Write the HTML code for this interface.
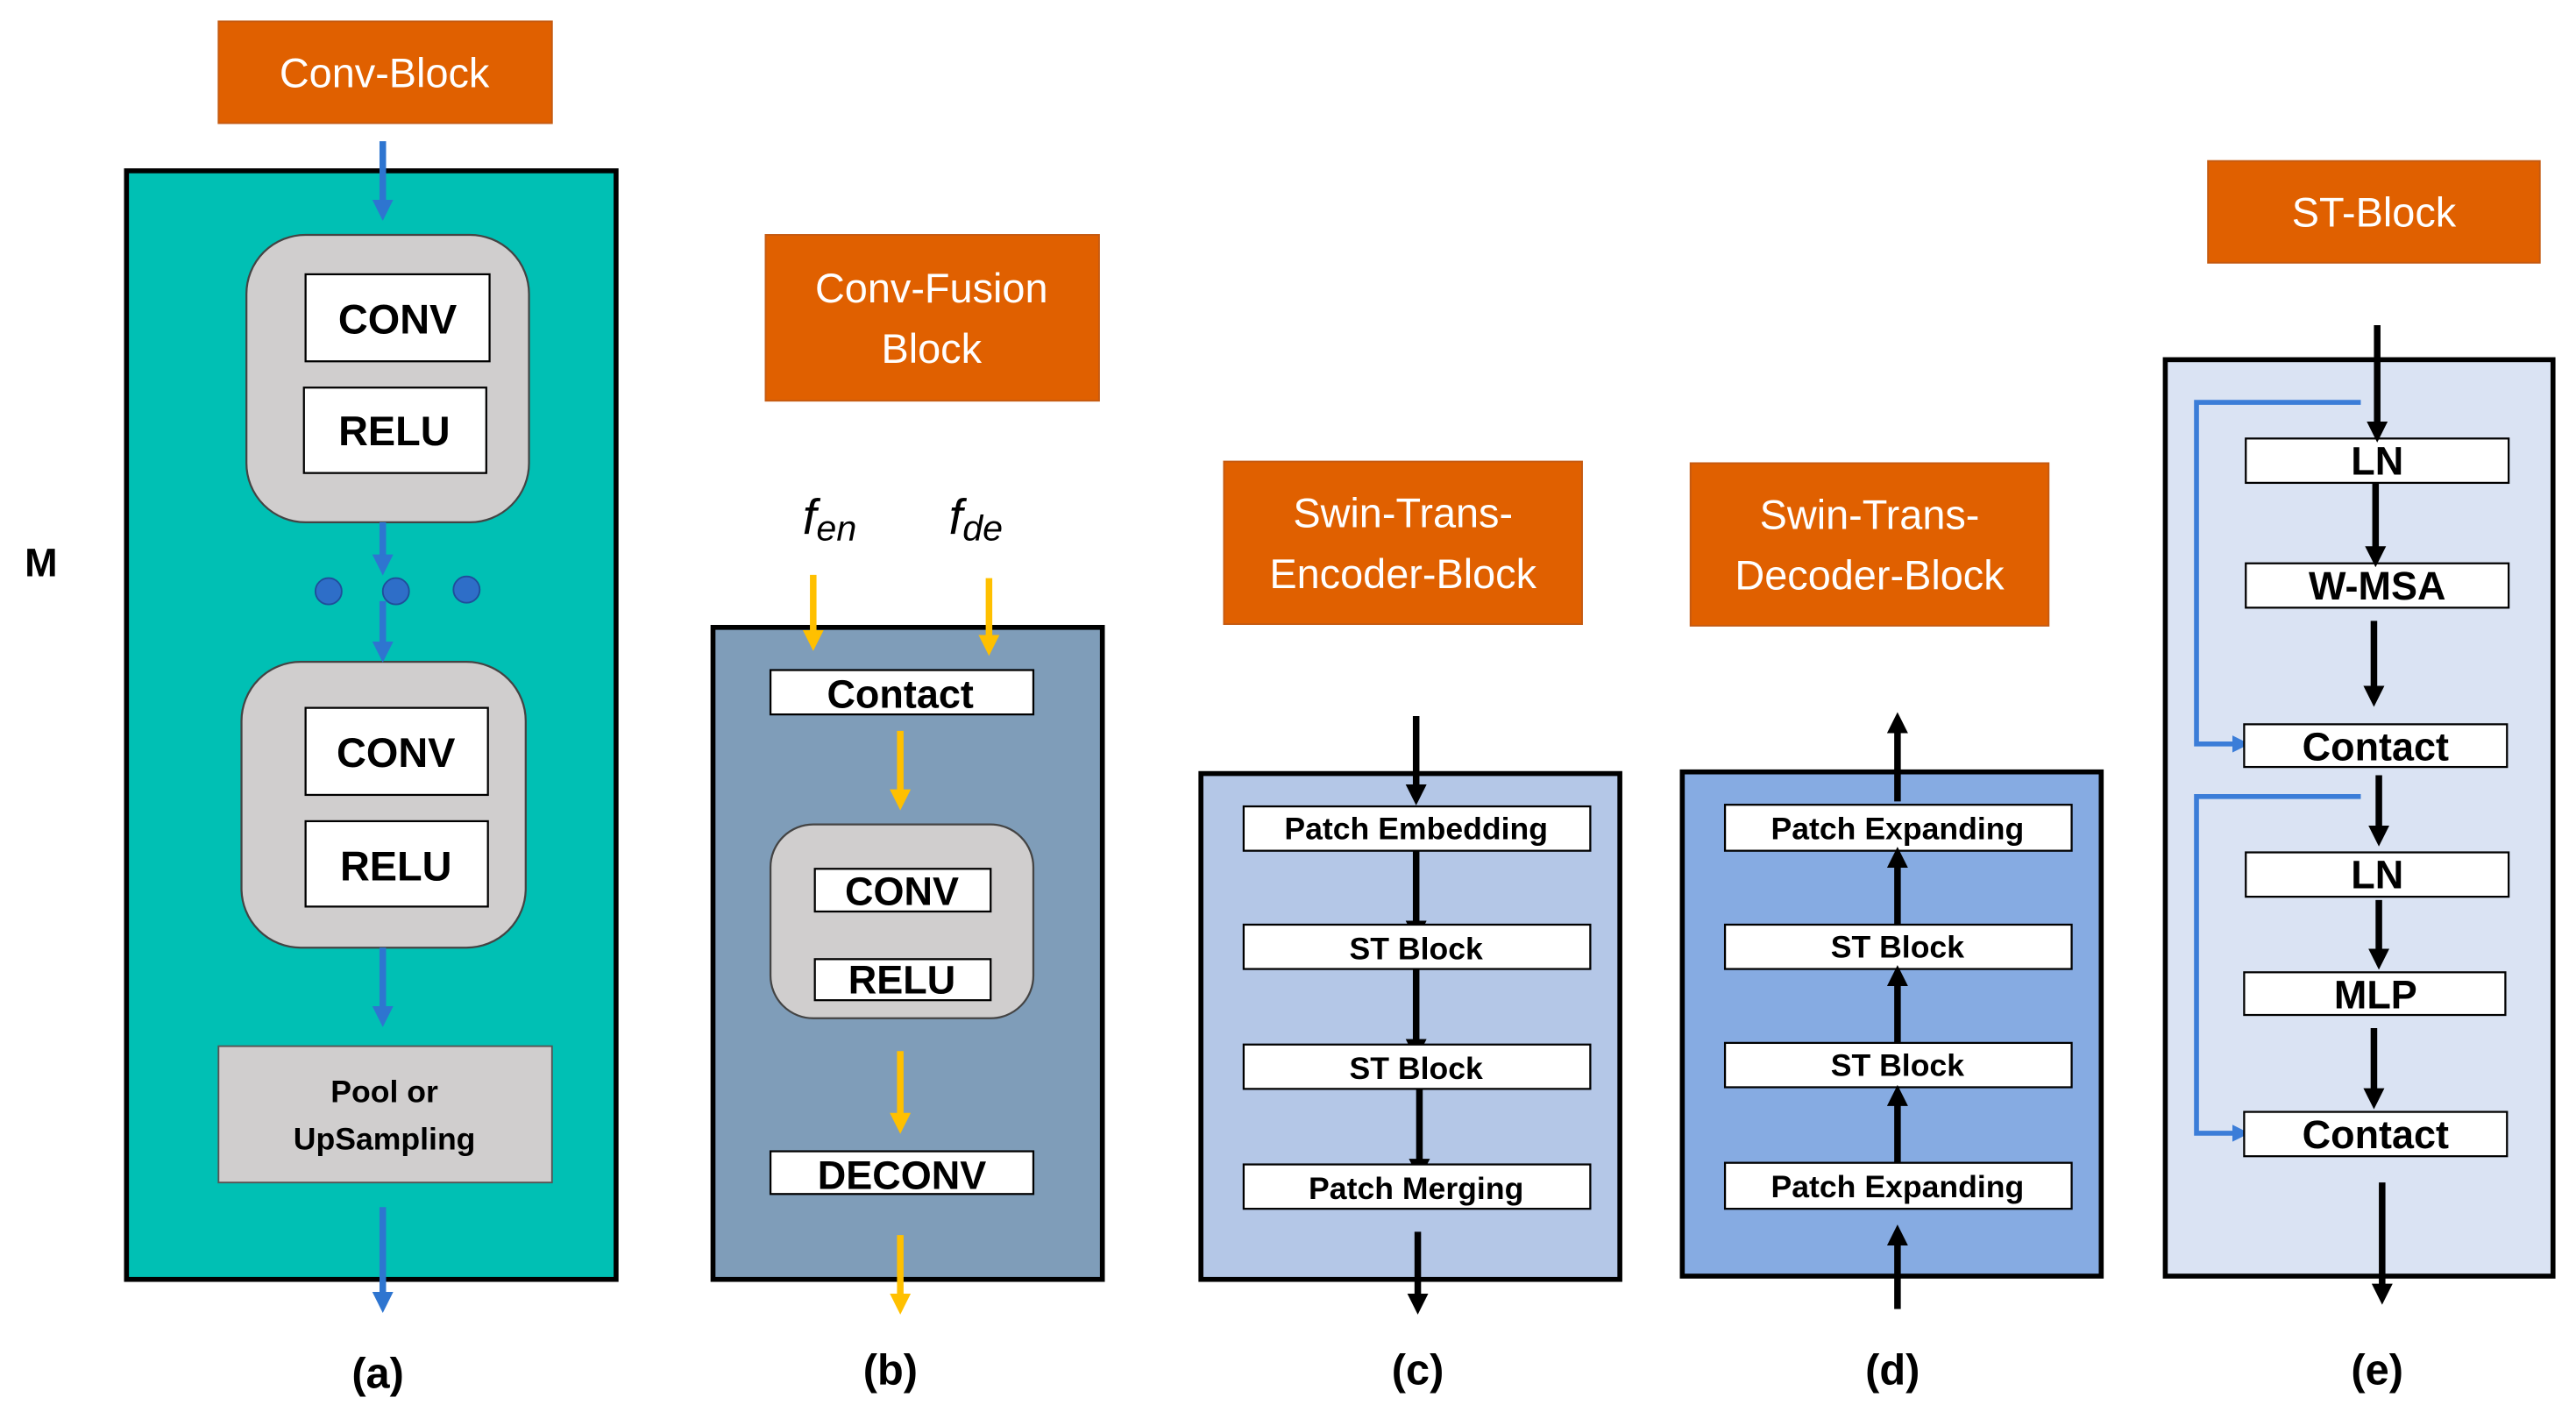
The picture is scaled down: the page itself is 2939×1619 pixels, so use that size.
<!DOCTYPE html>
<html><head><meta charset="utf-8"><style>
html,body{margin:0;padding:0;background:#fff;}
svg{display:block;}
text{font-family:"Liberation Sans",sans-serif;}
.b{font-weight:bold;fill:#000;text-anchor:middle;}
.o{fill:#fff;text-anchor:middle;font-size:25px;}
</style></head><body>
<svg width="2939" height="1619" viewBox="0 0 1568 864" preserveAspectRatio="none" xmlns="http://www.w3.org/2000/svg">
<defs>
<marker id="ab" viewBox="0 0 10 10" refX="5" refY="5" markerWidth="3.2" markerHeight="3.2" orient="auto"><path d="M0,0 L10,5 L0,10 z" fill="#2e75d0"/></marker>
<marker id="ay" viewBox="0 0 10 10" refX="5" refY="5" markerWidth="3.2" markerHeight="3.2" orient="auto"><path d="M0,0 L10,5 L0,10 z" fill="#ffc000"/></marker>
<marker id="ak" viewBox="0 0 10 10" refX="5" refY="5" markerWidth="3.2" markerHeight="3.2" orient="auto"><path d="M0,0 L10,5 L0,10 z" fill="#000"/></marker>
<marker id="ab2" viewBox="0 0 10 10" refX="5" refY="5" markerWidth="3.5" markerHeight="3.5" orient="auto"><path d="M0,0 L10,5 L0,10 z" fill="#3b7dd8"/></marker>
</defs>
<g stroke="#c55a11" stroke-width="1" fill="#e06000">
<rect x="133" y="13" width="203" height="62"/>
<rect x="466" y="143" width="203" height="101"/>
<rect x="745" y="281" width="218" height="99"/>
<rect x="1029" y="282" width="218" height="99"/>
<rect x="1344" y="98" width="202" height="62"/>
</g>
<text class="o" x="234" y="53">Conv-Block</text>
<text class="o" x="567" y="184">Conv-Fusion</text>
<text class="o" x="567" y="221">Block</text>
<text class="o" x="854" y="321">Swin-Trans-</text>
<text class="o" x="854" y="358">Encoder-Block</text>
<text class="o" x="1138" y="322">Swin-Trans-</text>
<text class="o" x="1138" y="359">Decoder-Block</text>
<text class="o" x="1445" y="138">ST-Block</text>

<text class="b" x="25" y="351" font-size="24">M</text>

<!-- (a) -->
<rect x="77" y="104" width="298" height="675" fill="#00c0b4" stroke="#000" stroke-width="3"/>
<rect x="150" y="143" width="172" height="175" rx="36" fill="#d0cece" stroke="#444" stroke-width="1.2"/>
<rect x="147" y="403" width="173" height="174" rx="36" fill="#d0cece" stroke="#444" stroke-width="1.2"/>
<g fill="#fff" stroke="#000" stroke-width="1.2">
<rect x="186" y="167" width="112" height="53"/><rect x="185" y="236" width="111" height="52"/>
<rect x="186" y="431" width="111" height="53"/><rect x="186" y="500" width="111" height="52"/>
</g>
<g class="b" font-size="25"><text class="b" x="242" y="203">CONV</text><text class="b" x="240" y="271">RELU</text>
<text class="b" x="241" y="467">CONV</text><text class="b" x="241" y="536">RELU</text></g>
<rect x="133" y="637" width="203" height="83" fill="#d0cece" stroke="#555" stroke-width="1"/>
<text class="b" x="234" y="671" font-size="19">Pool or</text>
<text class="b" x="234" y="700" font-size="19">UpSampling</text>
<g stroke="#2e75d0" stroke-width="4" marker-end="url(#ab)">
<line x1="233" y1="86" x2="233" y2="128"/><line x1="233" y1="318" x2="233" y2="344"/>
<line x1="233" y1="366" x2="233" y2="397"/><line x1="233" y1="577" x2="233" y2="619"/>
<line x1="233" y1="735" x2="233" y2="793"/></g>
<g fill="#2e6ec8" stroke="#1f4e9a" stroke-width="1"><circle cx="200" cy="360" r="8"/><circle cx="241" cy="360" r="8"/><circle cx="284" cy="359" r="8"/></g>
<text class="b" x="230" y="845" font-size="26">(a)</text>

<!-- (b) -->
<text x="505" y="325" font-family="Liberation Serif,serif" font-style="italic" font-size="30" text-anchor="middle">f<tspan font-size="22" dy="4">en</tspan></text>
<text x="594" y="325" font-family="Liberation Serif,serif" font-style="italic" font-size="30" text-anchor="middle">f<tspan font-size="22" dy="4">de</tspan></text>
<rect x="434" y="382" width="237" height="397" fill="#7f9db9" stroke="#000" stroke-width="3"/>
<rect x="469" y="502" width="160" height="118" rx="26" fill="#d0cece" stroke="#444" stroke-width="1.2"/>
<g fill="#fff" stroke="#000" stroke-width="1.2">
<rect x="469" y="408" width="160" height="27"/><rect x="496" y="529" width="107" height="26"/>
<rect x="496" y="584" width="107" height="25"/><rect x="469" y="701" width="160" height="26"/></g>
<text class="b" x="548" y="431" font-size="24">Contact</text>
<text class="b" x="549" y="551" font-size="24">CONV</text>
<text class="b" x="549" y="605" font-size="24">RELU</text>
<text class="b" x="549" y="724" font-size="24">DECONV</text>
<g stroke="#ffc000" stroke-width="4" marker-end="url(#ay)">
<line x1="495" y1="350" x2="495" y2="390"/><line x1="602" y1="352" x2="602" y2="393"/>
<line x1="548" y1="445" x2="548" y2="487"/><line x1="548" y1="640" x2="548" y2="684"/>
<line x1="548" y1="752" x2="548" y2="794"/></g>
<text class="b" x="542" y="843" font-size="26">(b)</text>

<!-- (c) -->
<rect x="731" y="471" width="255" height="308" fill="#b4c7e7" stroke="#000" stroke-width="3"/>
<g stroke="#000" stroke-width="4" marker-end="url(#ak)">
<line x1="862" y1="436" x2="862" y2="484"/><line x1="862" y1="518" x2="862" y2="567"/>
<line x1="862" y1="590" x2="862" y2="639"/><line x1="864" y1="663" x2="864" y2="712"/>
<line x1="863" y1="750" x2="863" y2="794"/></g>
<g fill="#fff" stroke="#000" stroke-width="1.2">
<rect x="757" y="491" width="211" height="27"/><rect x="757" y="563" width="211" height="27"/>
<rect x="757" y="636" width="211" height="27"/><rect x="757" y="709" width="211" height="27"/></g>
<g font-size="19"><text class="b" x="862" y="511">Patch Embedding</text><text class="b" x="862" y="584">ST Block</text>
<text class="b" x="862" y="657">ST Block</text><text class="b" x="862" y="730">Patch Merging</text></g>
<text class="b" x="863" y="843" font-size="26">(c)</text>

<!-- (d) -->
<rect x="1024" y="470" width="255" height="307" fill="#86abe2" stroke="#000" stroke-width="3"/>
<g fill="#fff" stroke="#000" stroke-width="1.2">
<rect x="1050" y="490" width="211" height="28"/><rect x="1050" y="563" width="211" height="27"/>
<rect x="1050" y="635" width="211" height="27"/><rect x="1050" y="708" width="211" height="28"/></g>
<g stroke="#000" stroke-width="4" marker-end="url(#ak)">
<line x1="1155" y1="797" x2="1155" y2="752"/><line x1="1155" y1="708" x2="1155" y2="667"/>
<line x1="1155" y1="635" x2="1155" y2="594"/><line x1="1155" y1="563" x2="1155" y2="522"/>
<line x1="1155" y1="488" x2="1155" y2="440"/></g>
<g font-size="19"><text class="b" x="1155" y="511">Patch Expanding</text><text class="b" x="1155" y="583">ST Block</text>
<text class="b" x="1155" y="655">ST Block</text><text class="b" x="1155" y="729">Patch Expanding</text></g>
<text class="b" x="1152" y="843" font-size="26">(d)</text>

<!-- (e) -->
<rect x="1318" y="219" width="236" height="558" fill="#dae3f3" stroke="#000" stroke-width="3"/>
<g fill="none" stroke="#3b7dd8" stroke-width="3">
<polyline points="1437,245 1337,245 1337,453 1364,453" marker-end="url(#ab2)"/>
<polyline points="1437,485 1337,485 1337,690 1364,690" marker-end="url(#ab2)"/></g>
<g fill="#fff" stroke="#000" stroke-width="1.2">
<rect x="1367" y="267" width="160" height="27"/><rect x="1367" y="343" width="160" height="27"/>
<rect x="1366" y="441" width="160" height="26"/><rect x="1367" y="519" width="160" height="27"/>
<rect x="1366" y="592" width="159" height="26"/><rect x="1366" y="677" width="160" height="27"/></g>
<g stroke="#000" stroke-width="4" marker-end="url(#ak)">
<line x1="1447" y1="198" x2="1447" y2="263"/><line x1="1446" y1="294" x2="1446" y2="339"/>
<line x1="1445" y1="378" x2="1445" y2="424"/><line x1="1448" y1="472" x2="1448" y2="509"/>
<line x1="1448" y1="548" x2="1448" y2="584"/><line x1="1445" y1="626" x2="1445" y2="669"/>
<line x1="1450" y1="720" x2="1450" y2="788"/></g>
<g font-size="24"><text class="b" x="1447" y="289">LN</text><text class="b" x="1447" y="365">W-MSA</text>
<text class="b" x="1446" y="463">Contact</text><text class="b" x="1447" y="541">LN</text>
<text class="b" x="1446" y="614">MLP</text><text class="b" x="1446" y="699">Contact</text></g>
<text class="b" x="1447" y="843" font-size="26">(e)</text>
</svg>
</body></html>
